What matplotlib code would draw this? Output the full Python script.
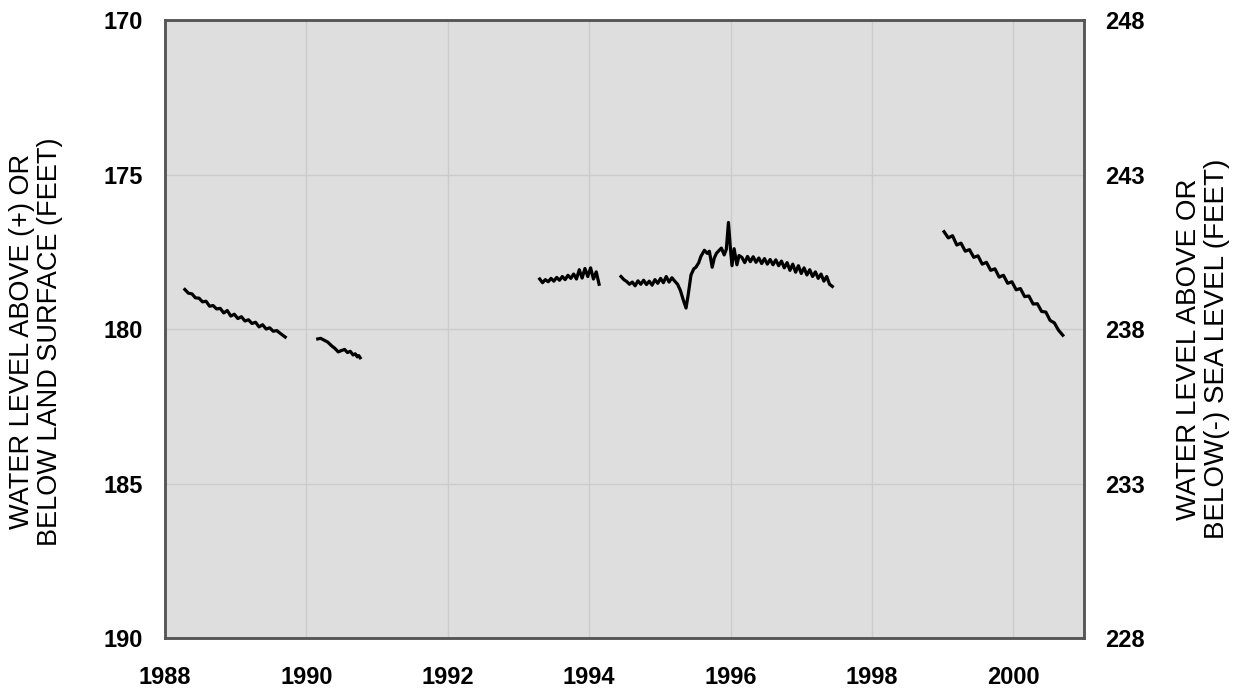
import matplotlib
matplotlib.use('Agg')
import matplotlib.pyplot as plt

# water level below land surface (feet)
seg1_year = [1988.28, 1988.33, 1988.38, 1988.43, 1988.48, 1988.53, 1988.58, 1988.63, 1988.68, 1988.73,
             1988.78, 1988.83, 1988.88, 1988.93, 1988.98, 1989.03, 1989.08, 1989.13, 1989.18, 1989.23,
             1989.28, 1989.33, 1989.38, 1989.43, 1989.48, 1989.53, 1989.58, 1989.63, 1989.70]
seg1_level = [178.72, 178.84, 178.86, 178.99, 179.00, 179.12, 179.10, 179.26, 179.24, 179.35,
              179.33, 179.48, 179.40, 179.58, 179.52, 179.66, 179.60, 179.74, 179.70, 179.82,
              179.78, 179.93, 179.86, 180.00, 179.96, 180.07, 180.05, 180.14, 180.26]

seg2_year = [1990.16, 1990.20, 1990.25, 1990.30, 1990.36, 1990.40, 1990.45, 1990.49, 1990.54, 1990.58,
             1990.62, 1990.66, 1990.69, 1990.72, 1990.74, 1990.76]
seg2_level = [180.32, 180.30, 180.36, 180.42, 180.55, 180.62, 180.74, 180.70, 180.66, 180.76,
              180.72, 180.84, 180.80, 180.90, 180.86, 180.93]

seg3_year = [1993.30, 1993.34, 1993.38, 1993.42, 1993.46, 1993.50, 1993.54, 1993.58, 1993.62, 1993.66,
             1993.70, 1993.74, 1993.78, 1993.82, 1993.86, 1993.90, 1993.94, 1993.98, 1994.02, 1994.06,
             1994.10, 1994.14]
seg3_level = [178.38, 178.50, 178.40, 178.47, 178.36, 178.45, 178.33, 178.42, 178.30, 178.40,
              178.26, 178.36, 178.22, 178.38, 178.08, 178.35, 178.04, 178.30, 178.02, 178.38,
              178.15, 178.55]

seg4_year = [1994.45, 1994.49, 1994.53, 1994.57, 1994.61, 1994.65, 1994.69, 1994.73, 1994.77, 1994.81,
             1994.85, 1994.89, 1994.93, 1994.97, 1995.01, 1995.05, 1995.09, 1995.13, 1995.17, 1995.21,
             1995.25, 1995.29, 1995.33, 1995.37, 1995.40, 1995.44, 1995.48, 1995.51, 1995.55, 1995.58,
             1995.63, 1995.67, 1995.70, 1995.74, 1995.77, 1995.80, 1995.84, 1995.87, 1995.91, 1995.94,
             1995.97, 1996.00, 1996.02, 1996.05, 1996.09, 1996.12, 1996.16, 1996.20, 1996.24, 1996.28,
             1996.32, 1996.36, 1996.40, 1996.44, 1996.48, 1996.52, 1996.56, 1996.60, 1996.64, 1996.68,
             1996.72, 1996.76, 1996.80, 1996.84, 1996.88, 1996.92, 1996.96, 1997.00, 1997.04, 1997.08,
             1997.12, 1997.16, 1997.20, 1997.24, 1997.28, 1997.32, 1997.36, 1997.40, 1997.44]
seg4_level = [178.30, 178.40, 178.46, 178.55, 178.48, 178.60, 178.44, 178.55, 178.42, 178.56,
              178.45, 178.58, 178.40, 178.52, 178.36, 178.50, 178.30, 178.48, 178.34, 178.45,
              178.55, 178.75, 179.05, 179.32, 178.90, 178.25, 178.05, 178.00, 177.85, 177.65,
              177.45, 177.55, 177.48, 178.00, 177.70, 177.55, 177.45, 177.38, 177.60, 177.42,
              176.55, 177.45, 177.95, 177.40, 177.92, 177.62, 177.68, 177.85, 177.65, 177.82,
              177.66, 177.84, 177.70, 177.88, 177.72, 177.90, 177.75, 177.92, 177.76, 177.95,
              177.80, 178.02, 177.85, 178.10, 177.90, 178.16, 177.95, 178.20, 178.02, 178.25,
              178.08, 178.30, 178.15, 178.36, 178.22, 178.45, 178.30, 178.55, 178.62]

seg5_year = [1999.02, 1999.08, 1999.14, 1999.20, 1999.26, 1999.32, 1999.38, 1999.44, 1999.50, 1999.56,
             1999.62, 1999.68, 1999.74, 1999.80, 1999.86, 1999.92, 1999.98, 2000.04, 2000.10, 2000.16,
             2000.22, 2000.28, 2000.34, 2000.40, 2000.46, 2000.52, 2000.58, 2000.64, 2000.70]
seg5_level = [176.85, 177.05, 176.98, 177.28, 177.22, 177.48, 177.43, 177.68, 177.63, 177.90,
              177.84, 178.10, 178.05, 178.32, 178.26, 178.52, 178.47, 178.73, 178.69, 178.95,
              178.93, 179.19, 179.18, 179.43, 179.45, 179.72, 179.80, 180.04, 180.20]

segments = [(seg1_year, seg1_level), (seg2_year, seg2_level), (seg3_year, seg3_level),
            (seg4_year, seg4_level), (seg5_year, seg5_level)]

left_ticks = [170, 175, 180, 185, 190]
right_ticks = [248, 243, 238, 233, 228]
year_ticks = [1988, 1990, 1992, 1994, 1996, 1998, 2000]

plt.rcParams['font.family'] = ['Liberation Sans', 'DejaVu Sans']

fig = plt.figure(figsize=(12.41, 6.92), dpi=100)
ax = fig.add_axes([0.133, 0.078, 0.7405, 0.893])
ax.set_facecolor('#dedede')

for yrs, lev in segments:
    ax.plot(yrs, lev, color='black', linewidth=2.3, solid_joinstyle='round')

ax.set_xlim(1988, 2001)
ax.set_ylim(190, 170)
ax.set_xticks(year_ticks)
ax.set_yticks(left_ticks)
ax.grid(True, color='#cbcbcb', linewidth=1.0)
ax.set_axisbelow(True)
ax.tick_params(axis='x', length=0, pad=20, labelsize=17)
ax.tick_params(axis='y', length=0, pad=16, labelsize=17)
for lbl in ax.get_xticklabels() + ax.get_yticklabels():
    lbl.set_fontweight('bold')
for s in ax.spines.values():
    s.set_color('#555555')
    s.set_linewidth(1.8)

ax2 = ax.twinx()
ax2.set_ylim(228, 248)
ax2.set_yticks(right_ticks)
ax2.tick_params(axis='y', length=0, pad=15, labelsize=17)
for lbl in ax2.get_yticklabels():
    lbl.set_fontweight('bold')
for s in ax2.spines.values():
    s.set_color('#555555')
    s.set_linewidth(1.8)

fig.text(0.029, 0.506, 'WATER LEVEL ABOVE (+) OR\nBELOW LAND SURFACE (FEET)', rotation=90,
         ha='center', va='center', fontsize=19.5, multialignment='center', linespacing=1.1)
fig.text(0.969, 0.496, 'WATER LEVEL ABOVE OR\nBELOW(-) SEA LEVEL (FEET)', rotation=90,
         ha='center', va='center', fontsize=20, multialignment='center', linespacing=1.1)

fig.savefig('out.png', dpi=100)
